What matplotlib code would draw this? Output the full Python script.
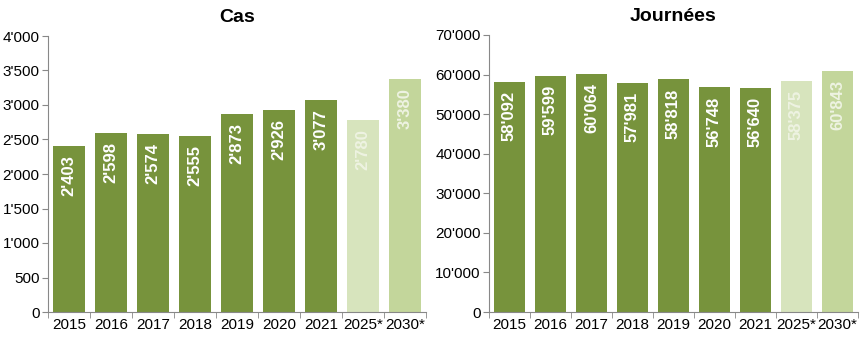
import numpy as np
from matplotlib import pyplot as plt
from matplotlib.ticker import FuncFormatter

years = ["2015", "2016", "2017", "2018", "2019", "2020", "2021", "2025*", "2030*"]
cas = [2403, 2598, 2574, 2555, 2873, 2926, 3077, 2780, 3380]
journees = [58092, 59599, 60064, 57981, 58818, 56748, 56640, 58375, 60843]

dark = "#77933C"
bar_colors = [dark] * 7 + ["#D7E4BD", "#C3D69B"]
label_colors = ["white"] * 7 + ["#EEF3E2", "#EEF3E2"]

plt.rcParams['font.family'] = ['Liberation Sans', 'DejaVu Sans']


def fmt(v, pos=None):
    return "{:,}".format(int(v)).replace(",", "'")


def draw(ax, values, title, ymax, step):
    x = np.arange(len(years))
    ax.bar(x, values, width=0.77, color=bar_colors)
    for i, v in enumerate(values):
        ax.annotate(fmt(v), (x[i], v), xytext=(0, -6.5), textcoords="offset points",
                    rotation=90, ha="center", va="top", color=label_colors[i],
                    fontsize=12, fontweight="bold")
    ax.set_xlim(-0.5, len(years) - 0.5)
    ax.set_ylim(0, ymax)
    ax.set_yticks(np.arange(0, ymax + 1, step))
    ax.yaxis.set_major_formatter(FuncFormatter(fmt))
    ax.set_xticks(x)
    ax.set_xticklabels(years)
    ax.set_xticks(np.arange(-0.5, len(years), 1), minor=True)
    ax.tick_params(axis="x", which="major", length=0, labelsize=11, pad=4)
    ax.tick_params(axis="x", which="minor", length=4, color="#888888")
    ax.tick_params(axis="y", length=4, color="#888888", labelsize=11, pad=2)
    ax.spines['right'].set_visible(False)
    ax.spines['top'].set_visible(False)
    ax.spines['left'].set_color("#888888")
    ax.spines['bottom'].set_color("#888888")
    ax.set_title(title, fontsize=14, fontweight="bold", pad=10)


fig = plt.figure(figsize=(8.61, 3.44), dpi=100)
ax1 = fig.add_axes([48 / 861, 32 / 344, 378 / 861, 276 / 344])
ax2 = fig.add_axes([489 / 861, 32 / 344, 369 / 861, 277 / 344])
draw(ax1, cas, "Cas", 4000, 500)
draw(ax2, journees, "Journées", 70000, 10000)
fig.savefig("out.png", dpi=100)
